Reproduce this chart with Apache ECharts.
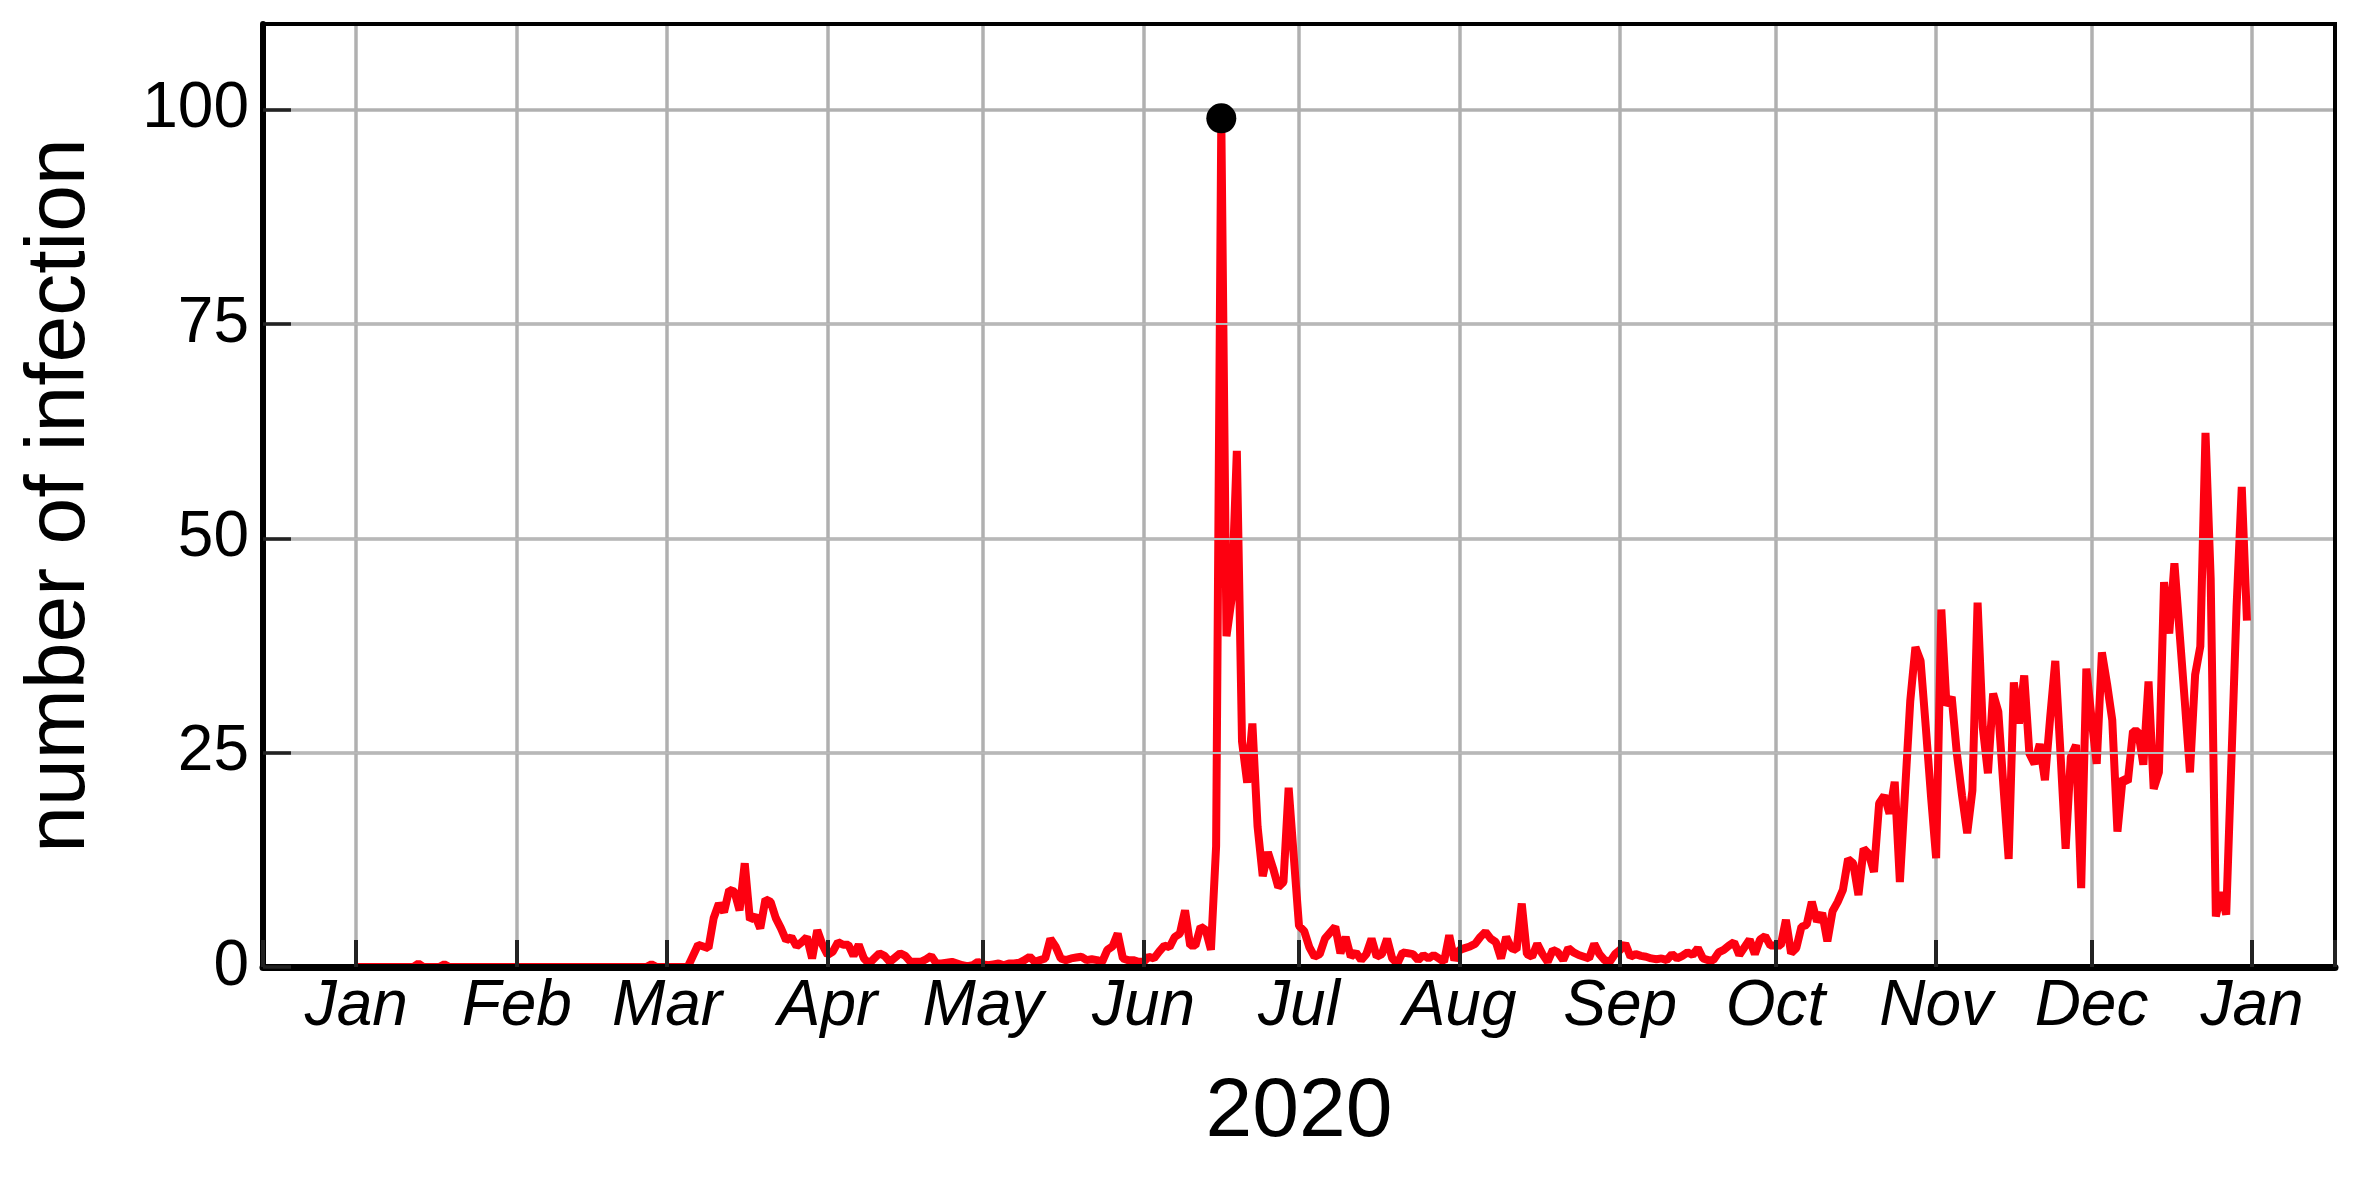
<!DOCTYPE html>
<html>
<head>
<meta charset="utf-8">
<title>number of infection 2020</title>
<script src="https://cdn.jsdelivr.net/npm/echarts@6/dist/echarts.min.js"></script>
<style>
html, body { margin: 0; padding: 0; background: #fff; }
#chart { width: 2362px; height: 1181px; }
</style>
</head>
<body>
<div id="chart"></div>
<script>
// daily counts, one array per month of 2020
const jan = [0, 0, 0, 0, 0, 0, 0, 0, 0, 0,
  0, 0, 0.4, 0, 0, 0, 0, 0.3, 0, 0,
  0, 0, 0, 0, 0, 0, 0, 0, 0, 0,
  0]
const feb = [0, 0, 0, 0, 0, 0, 0, 0, 0, 0,
  0, 0, 0, 0, 0, 0, 0, 0, 0, 0,
  0, 0, 0, 0, 0, 0, 0.3, 0, 0]
const mar = [0, 0, 0, 0, 0, 1.3, 2.6, 2.4, 2.2, 5.7,
  7.4, 6.4, 9.0, 8.8, 6.6, 12.1, 5.5, 6.0, 4.5, 7.9,
  7.6, 5.7, 4.5, 3.1, 3.5, 2.4, 2.9, 3.5, 1.0, 4.3,
  2.6]
const apr = [1.4, 1.8, 2.9, 2.6, 2.6, 1.3, 2.6, 1.0, 0.4, 1.0,
  1.6, 1.3, 0.6, 1.1, 1.6, 1.3, 0.6, 0.6, 0.6, 0.9,
  1.3, 0.4, 0.4, 0.5, 0.6, 0.4, 0.2, 0.1, 0.2, 0.6]
const may = [0.3, 0.2, 0.3, 0.4, 0.2, 0.4, 0.4, 0.5, 0.8, 1.2,
  0.6, 0.8, 1.0, 3.3, 2.4, 1.0, 0.8, 1.0, 1.1, 1.2,
  0.8, 0.9, 0.8, 0.6, 2.0, 2.4, 3.9, 1.0, 0.8, 0.8,
  0.6]
const jun = [0.6, 1.2, 1.0, 1.8, 2.5, 2.3, 3.5, 3.9, 6.6, 2.5,
  2.5, 4.7, 4.3, 2.0, 14.1, 99, 38.6, 43, 60.2, 26.3,
  21.5, 28.4, 16.4, 10.6, 13.4, 11.5, 9.3, 9.9, 20.9, 12.8]
const jul = [4.8, 4.2, 2.3, 1.2, 1.5, 3.3, 4.0, 4.7, 1.6, 3.5,
  1.2, 1.7, 0.8, 1.5, 3.3, 1.2, 1.5, 3.3, 1.0, 0.4,
  1.7, 1.6, 1.5, 0.8, 1.4, 1.0, 1.4, 1.0, 0.6, 3.7,
  0.8]
const aug = [2.0, 2.2, 2.4, 2.7, 3.5, 4.1, 3.3, 2.9, 1.0, 3.5,
  2.2, 2.0, 7.4, 1.5, 1.2, 2.7, 1.5, 0.6, 2.0, 1.7,
  0.8, 2.2, 1.7, 1.4, 1.2, 1.0, 2.7, 1.5, 0.8, 0.6,
  1.5]
const sep = [2.0, 2.7, 1.2, 1.5, 1.3, 1.2, 1.0, 0.9, 1.0, 0.8,
  1.5, 1.0, 1.3, 1.7, 1.4, 2.2, 1.0, 0.8, 0.8, 1.7,
  2.0, 2.5, 2.9, 1.4, 2.3, 3.2, 1.5, 3.2, 3.6, 2.5]
const oct = [2.5, 2.5, 5.5, 1.6, 2.2, 4.7, 4.9, 7.6, 5.3, 6.3,
  3.0, 6.5, 7.6, 9.0, 12.6, 12.1, 8.4, 13.8, 13.2, 11.1,
  19.1, 20.0, 17.9, 21.6, 9.9, 20.5, 31, 37.3, 35.7, 28,
  20]
const nov = [12.7, 41.7, 30.5, 31.5, 24.9, 20, 15.6, 20.6, 42.5, 28,
  22.6, 31.9, 29.8, 21, 12.6, 33.2, 28.4, 34, 24.9, 23.7,
  26, 21.8, 29, 35.7, 25, 13.8, 24.5, 25.9, 9.2, 34.8]
const dec = [29, 23.7, 36.7, 33, 28.8, 15.8, 22, 21.6, 27.5, 27.5,
  23.6, 33.3, 20.8, 22.7, 44.9, 38.9, 47.1, 39, 31, 22.7,
  34.1, 37.4, 62.3, 45.3, 5.9, 8.7, 6.1, 24, 42, 56,
  40.4]

const monthTicks = ['2020-01-01', '2020-02-01', '2020-03-01', '2020-04-01',
  '2020-05-01', '2020-06-01', '2020-07-01', '2020-08-01', '2020-09-01',
  '2020-10-01', '2020-11-01', '2020-12-01', '2021-01-01']
const monthLabels = ['Jan', 'Feb', 'Mar', 'Apr', 'May', 'Jun', 'Jul',
  'Aug', 'Sep', 'Oct', 'Nov', 'Dec', 'Jan']
const yTicks = [0, 25, 50, 75, 100]
const xStart = '2019-12-14'
const xEnd = '2021-01-17'

const oneDay = 24 * 3600 * 1000
const firstDay = Date.parse('2020-01-01')
const daily = [].concat(jan, feb, mar, apr, may, jun, jul, aug, sep, oct, nov, dec)
const lineData = daily.map((v, i) => [firstDay + i * oneDay, v])
const tickTimes = monthTicks.map((s) => Date.parse(s))
const xMin = Date.parse(xStart)
const xMax = Date.parse(xEnd)

function monthName(value) {
  const i = tickTimes.indexOf(+value)
  return i >= 0 ? monthLabels[i] : ''
}

const font = 'Liberation Sans, Arial, Helvetica, sans-serif'
const chart = echarts.init(document.getElementById('chart'))

const option = {
  useUTC: true,
  animation: false,
  backgroundColor: '#fff',
  textStyle: { fontFamily: font },
  grid: {
    left: 263, right: 27, top: 24, bottom: 214,
    show: true, borderColor: '#000', borderWidth: 4,
    backgroundColor: 'transparent',
    outerBoundsMode: 'none',
  },
  xAxis: [
    {
      type: 'time', min: xMin, max: xMax, position: 'bottom',
      minInterval: 28 * oneDay, maxInterval: 31 * oneDay,
      axisLine: { show: false, onZero: false },
      axisTick: { show: false },
      axisLabel: {
        formatter: monthName,
        fontSize: 64, fontStyle: 'italic', color: '#000', margin: 8,
        fontFamily: font, hideOverlap: false,
        showMinLabel: true, showMaxLabel: true,
      },
      splitLine: {
        show: true, showMinLine: false, showMaxLine: false,
        lineStyle: { color: '#b0b0b0', width: 3.5 },
      },
      name: '2020', nameLocation: 'middle', nameGap: 104,
      nameTextStyle: { fontSize: 84, color: '#000', fontFamily: font },
    },
    {
      // overlay so the black axis sits on top of the red line
      type: 'time', min: xMin, max: xMax, position: 'bottom', z: 5,
      minInterval: 28 * oneDay, maxInterval: 31 * oneDay,
      axisLine: { show: true, onZero: false, lineStyle: { color: '#000', width: 7 } },
      axisTick: {
        show: true, inside: true, length: 27,
        lineStyle: { color: '#222', width: 4 },
      },
      axisLabel: { show: false },
      splitLine: { show: false },
    },
    {
      // top frame edge
      type: 'time', min: xMin, max: xMax, position: 'top', z: 5,
      axisLine: { show: true, onZero: false, lineStyle: { color: '#000', width: 4 } },
      axisTick: { show: false },
      axisLabel: { show: false },
      splitLine: { show: false },
    },
  ],
  yAxis: [
    {
      type: 'value', min: 0, max: 110, interval: 12.5, position: 'left', z: 5,
      axisLine: { show: true, onZero: false, lineStyle: { color: '#000', width: 6 } },
      axisTick: {
        show: true, inside: true, length: 28, customValues: yTicks,
        lineStyle: { color: '#222', width: 3.5 },
      },
      axisLabel: {
        customValues: yTicks, fontSize: 64, color: '#000', margin: 14,
        fontFamily: font,
      },
      splitLine: {
        show: true, showMinLine: false, showMaxLine: false,
        lineStyle: { color: '#b8b8b8', width: 2 },
      },
      name: 'number of infection', nameLocation: 'middle', nameGap: 160,
      nameRotate: 90,
      nameTextStyle: { fontSize: 84, color: '#000', fontFamily: font },
    },
    {
      type: 'value', min: 0, max: 110, interval: 25, position: 'left',
      axisLine: { show: false, onZero: false },
      axisTick: { show: false },
      axisLabel: { show: false },
      splitLine: {
        show: true, showMinLine: false, showMaxLine: false,
        lineStyle: { color: '#b0b0b0', width: 3.5 },
      },
    },
    {
      // right frame edge
      type: 'value', min: 0, max: 110, position: 'right', z: 5,
      axisLine: { show: true, onZero: false, lineStyle: { color: '#000', width: 4 } },
      axisTick: { show: false },
      axisLabel: { show: false },
      splitLine: { show: false },
    },
  ],
  series: [
    {
      name: 'infection',
      type: 'line',
      xAxisIndex: 0,
      yAxisIndex: 0,
      showSymbol: false,
      data: lineData,
      lineStyle: { color: '#fd0010', width: 8 },
      itemStyle: { color: '#fd0010' },
      markPoint: {
        symbol: 'circle',
        symbolSize: 30,
        itemStyle: { color: '#000' },
        label: { show: false },
        data: [{ type: 'max' }],
      },
    },
  ],
}
chart.setOption(option)
</script>
</body>
</html>
